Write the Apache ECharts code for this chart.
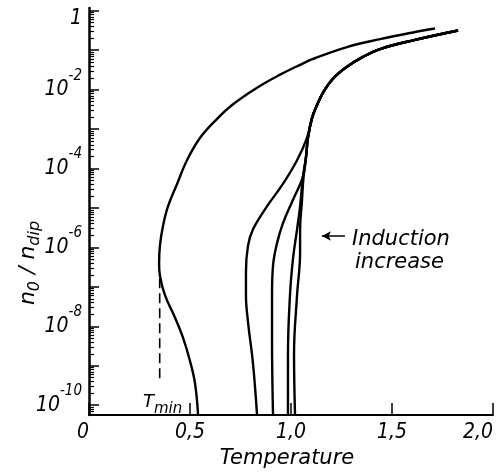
<!DOCTYPE html>
<html>
<head>
    <meta charset="utf-8">
    <title></title>
    <script src="https://cdn.jsdelivr.net/npm/echarts@6/dist/echarts.min.js"></script>
    <style>
        html, body { margin: 0; padding: 0; background: #fff; }
    </style>
</head>
<body>
    <div id="container" style="width: 497px;height: 474px;"></div>
<script type="text/javascript">
    // temperature (x) and log10(n0/ndip) (y)
    var curveA_T = [0.540, 0.525, 0.500, 0.465, 0.426, 0.376, 0.351, 0.347, 0.351, 0.366, 0.391, 0.436, 0.485, 0.550, 0.634, 0.713, 0.832, 0.946, 1.045, 1.109, 1.277, 1.441, 1.604, 1.713];
    var curveA_L = [-10.25, -9.45, -8.88, -8.28, -7.78, -7.21, -6.71, -6.41, -5.96, -5.46, -4.96, -4.39, -3.79, -3.22, -2.74, -2.37, -1.95, -1.62, -1.37, -1.22, -0.92, -0.72, -0.55, -0.45];

    // shared upper branch of the four induction curves
    var upper_T = [1.104, 1.129, 1.163, 1.208, 1.277, 1.356, 1.441, 1.604, 1.827];
    var upper_L = [-2.72, -2.39, -2.04, -1.72, -1.42, -1.17, -0.97, -0.75, -0.50];

    var b1_T = [0.832, 0.812, 0.787, 0.777, 0.777, 0.787, 0.812, 0.881, 0.960, 1.030, 1.079];
    var b1_L = [-10.25, -8.95, -7.88, -7.21, -6.63, -5.96, -5.54, -4.96, -4.39, -3.79, -3.22];
    var b2_T = [0.911, 0.906, 0.906, 0.911, 0.931, 0.960, 1.010, 1.059, 1.074, 1.084];
    var b2_L = [-10.25, -8.28, -7.21, -6.46, -5.89, -5.39, -4.79, -4.21, -3.72, -3.22];
    var b3_T = [0.985, 0.985, 0.995, 1.010, 1.030, 1.045, 1.059, 1.074, 1.084];
    var b3_L = [-10.25, -8.70, -7.21, -6.28, -5.54, -4.96, -4.21, -3.72, -3.22];
    var b4_T = [1.020, 1.015, 1.030, 1.045, 1.045, 1.054, 1.062, 1.074, 1.084];
    var b4_L = [-10.25, -8.70, -7.21, -6.13, -5.54, -4.84, -4.21, -3.72, -3.22];

    // T_min guide and the arrow
    var tmin_T = [0.35, 0.35];
    var tmin_L = [-6.78, -9.33];
    var arrow_T = [1.267, 1.153];
    var arrow_L = [-5.71, -5.71];

    var xTicks = [0, 0.5, 1.0, 1.5, 2.0];
    var xTickLabels = ['0', '0,5', '1,0', '1,5', '2,0'];
    var yMajor = [0, -1, -2, -3, -4, -5, -6, -7, -8, -9, -10];
    var yLabelValues = [0, -2, -4, -6, -8, -10];
    var yLabelExp = ['', '-2', '-4', '-6', '-8', '-10'];

    var yMinor = [];
    for (var d = -11; d < 0; d++) {
        for (var k = 2; k <= 9; k++) {
            var v = d + Math.log10(k);
            if (v > -10.25) yMinor.push(v);
        }
    }

    function pairs(t, l) {
        var out = [];
        for (var i = 0; i < t.length; i++) out.push([t[i], l[i]]);
        return out;
    }

    var numFont = "'Liberation Sans Narrow', 'DejaVu Sans Condensed', sans-serif";
    var txtFont = "'DejaVu Sans', sans-serif";

    function curve(t, l) {
        return {
            type: 'line',
            data: pairs(t, l),
            showSymbol: false,
            smooth: 0.4,
            lineStyle: { color: '#000', width: 2.4 },
            silent: true
        };
    }

    var dom = document.getElementById("container");
    var myChart = echarts.init(dom);
    var option = {
        animation: false,
        grid: { left: 89, right: 4, top: 8, bottom: 52 },
        xAxis: {
            type: 'value',
            min: 0,
            max: 2,
            interval: 0.5,
            splitLine: { show: false },
            axisLine: { onZero: false, lineStyle: { color: '#000', width: 2 } },
            axisTick: { inside: true, length: 12, lineStyle: { color: '#000', width: 1.5 } },
            axisLabel: {
                color: '#000',
                fontSize: 21,
                fontStyle: 'italic',
                fontFamily: numFont,
                margin: 7,
                alignMinLabel: 'right',
                alignMaxLabel: 'right',
                formatter: function (v) {
                    var i = xTicks.indexOf(v);
                    return i >= 0 ? xTickLabels[i] : '';
                }
            },
            name: 'Temperature',
            nameLocation: 'middle',
            nameGap: 18,
            nameTextStyle: {
                color: '#000',
                fontSize: 21,
                fontStyle: 'italic',
                fontFamily: txtFont,
                padding: [0, 8, 0, 0]
            }
        },
        yAxis: [{
            type: 'value',
            min: -10.25,
            max: 0.07,
            splitLine: { show: false },
            axisLine: { onZero: false, lineStyle: { color: '#000', width: 2.5 } },
            axisTick: { inside: true, length: 10, customValues: yMajor, lineStyle: { color: '#000', width: 1.5 } },
            axisLabel: {
                customValues: yLabelValues,
                margin: 7,
                color: '#000',
                formatter: function (v) {
                    var i = yLabelValues.indexOf(Math.round(v));
                    if (i < 0) return '';
                    if (yLabelExp[i] === '') return '{one|1}';
                    return '{b|10}{s|' + yLabelExp[i] + '}';
                },
                rich: {
                    one: { fontSize: 21, fontStyle: 'italic', fontFamily: numFont, padding: [16, 0, 0, 0] },
                    b: { fontSize: 21, fontStyle: 'italic', fontFamily: numFont },
                    s: { fontSize: 15, fontStyle: 'italic', fontFamily: numFont, lineHeight: 15, padding: [0, 0, 28, 0] }
                }
            }
        }, {
            type: 'value',
            min: -10.25,
            max: 0.07,
            position: 'left',
            splitLine: { show: false },
            axisLine: { show: false, onZero: false },
            axisLabel: { show: false },
            axisTick: { inside: true, length: 5, customValues: yMinor, lineStyle: { color: '#000', width: 1.2 } }
        }],
        graphic: [{
            type: 'text',
            x: 28,
            y: 263,
            rotation: Math.PI / 2,
            style: {
                text: '{n|n}{sub|0}{n| / n}{sub|dip}',
                align: 'center',
                verticalAlign: 'middle',
                fill: '#000',
                rich: {
                    n: { fontSize: 22, fontStyle: 'italic', fontFamily: txtFont, fill: '#000' },
                    sub: { fontSize: 16, fontStyle: 'italic', fontFamily: txtFont, fill: '#000', padding: [14, 0, 0, 0] }
                }
            }
        }, {
            type: 'text',
            x: 143,
            y: 402,
            style: {
                text: '{t|T}{sub|min}',
                verticalAlign: 'middle',
                fill: '#000',
                rich: {
                    t: { fontSize: 18, fontStyle: 'italic', fontFamily: txtFont, fill: '#000' },
                    sub: { fontSize: 15, fontStyle: 'italic', fontFamily: txtFont, fill: '#000', padding: [14, 0, 0, 0] }
                }
            }
        }, {
            type: 'text',
            x: 352,
            y: 240,
            style: { text: 'Induction', font: 'italic 21px ' + txtFont, fill: '#000', verticalAlign: 'middle' }
        }, {
            type: 'text',
            x: 355,
            y: 263,
            style: { text: 'increase', font: 'italic 21px ' + txtFont, fill: '#000', verticalAlign: 'middle' }
        }],
        series: [
            curve(curveA_T, curveA_L),
            curve(b1_T.concat(upper_T), b1_L.concat(upper_L)),
            curve(b2_T.concat(upper_T), b2_L.concat(upper_L)),
            curve(b3_T.concat(upper_T), b3_L.concat(upper_L)),
            curve(b4_T.concat(upper_T), b4_L.concat(upper_L)),
            {
                type: 'line',
                data: pairs(tmin_T, tmin_L),
                showSymbol: false,
                silent: true,
                lineStyle: { color: '#000', width: 1.6, type: [10, 5] },
                markLine: {
                    silent: true,
                    symbol: ['none', 'arrow'],
                    symbolSize: [7, 9],
                    label: { show: false },
                    lineStyle: { color: '#000', width: 1.5, type: 'solid' },
                    data: [[{ coord: [arrow_T[0], arrow_L[0]] }, { coord: [arrow_T[1], arrow_L[1]] }]]
                }
            }
        ]
    };
    myChart.setOption(option);
</script>
</body>
</html>
